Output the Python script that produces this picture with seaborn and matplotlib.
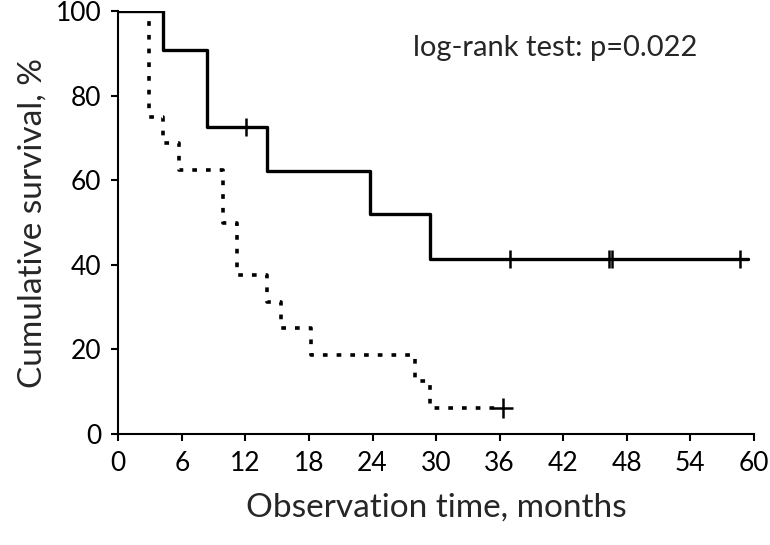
import matplotlib
matplotlib.use("Agg")
import matplotlib.pyplot as plt
import seaborn as sns
import pandas as pd

# Kaplan-Meier -käyrät luettuna kuvasta
solid_time = [0, 4.2, 8.4, 14.0, 23.8, 29.4, 59.4]
solid_surv = [100, 90.9, 72.7, 62.3, 52.0, 41.5, 41.5]
solid_cens_time = [12.1, 37.0, 46.3, 46.6, 58.7]
solid_cens_surv = [72.7, 41.5, 41.5, 41.5, 41.5]

dotted_time = [0, 2.9, 4.25, 5.7, 9.85, 11.2, 14.0, 15.4, 18.15, 28.0, 29.4, 36.3]
dotted_surv = [100, 75, 68.75, 62.5, 50, 37.5, 31.25, 25, 18.75, 12.5, 6.25, 6.25]
dotted_cens_time = [36.3]
dotted_cens_surv = [6.25]

x_ticks = [0, 6, 12, 18, 24, 30, 36, 42, 48, 54, 60]
y_ticks = [0, 20, 40, 60, 80, 100]

sns.set_style("ticks")
plt.rcParams["font.family"] = ["Lato", "DejaVu Sans"]

df_solid = pd.DataFrame({"time": solid_time, "surv": solid_surv})
df_dotted = pd.DataFrame({"time": dotted_time, "surv": dotted_surv})

fig = plt.figure(figsize=(7.7, 5.45), dpi=100)
ax = fig.add_axes([0.1536, 0.2037, 0.8255, 0.7756])

sns.lineplot(data=df_dotted, x="time", y="surv", ax=ax, estimator=None,
             drawstyle="steps-post", color="black", linewidth=2.6,
             linestyle=(0, (1.3, 2.5)), dashes=False)
sns.lineplot(data=df_solid, x="time", y="surv", ax=ax, estimator=None,
             drawstyle="steps-post", color="black", linewidth=2.4)

sns.scatterplot(x=solid_cens_time, y=solid_cens_surv, ax=ax, marker="+",
                s=180, color="black", linewidth=1.8)
sns.scatterplot(x=dotted_cens_time, y=dotted_cens_surv, ax=ax, marker="+",
                s=200, color="black", linewidth=1.8)

ax.set_xlim(0, 60)
ax.set_ylim(0, 100)
ax.set_xticks(x_ticks)
ax.set_yticks(y_ticks)
ax.tick_params(axis="both", direction="out", length=5, width=1.5,
               labelsize=19, color="black", labelcolor="black", pad=7)
for side in ["left", "bottom"]:
    ax.spines[side].set_linewidth(1.5)
    ax.spines[side].set_color("black")
sns.despine(ax=ax)

ax.set_xlabel("Observation time, months", fontsize=24, labelpad=12)
ax.set_ylabel("Cumulative survival, %", fontsize=24, labelpad=6)

ax.text(0.464, 0.913, "log-rank test: p=0.022", transform=ax.transAxes,
        fontsize=21, ha="left", va="center")

fig.savefig("out.png", dpi=100)
